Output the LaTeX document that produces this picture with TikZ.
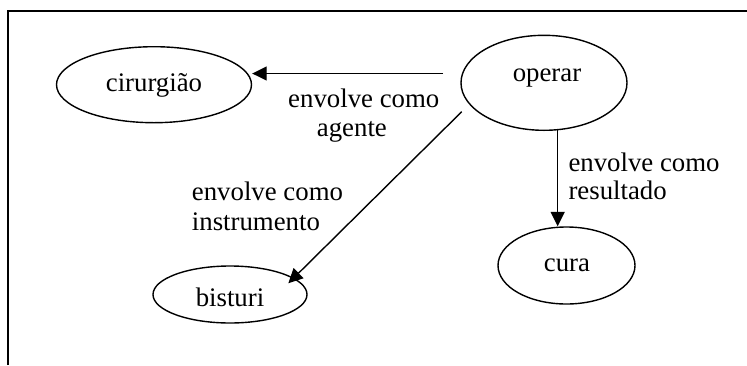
\documentclass[tikz,border=0pt]{standalone}
\usepackage{fontspec}
\setmainfont{Liberation Serif}
\usetikzlibrary{arrows.meta,shapes.geometric,calc}
\begin{document}
\begin{tikzpicture}[x=1pt,y=-1pt,
  oval/.style={draw,ellipse,line width=1.4pt,inner sep=0pt},
  word/.style={font=\fontsize{26.8}{30}\selectfont,inner sep=0pt,anchor=base},
  lbl/.style={word,anchor=base west},
  arr/.style={line width=1.4pt,-{Triangle[length=14.5pt,width=14pt]}},
  frame/.style={line width=1.7pt}]
\useasboundingbox (0,0) rectangle (747,365);

% open frame: top and left edges only
\coordinate (fbl) at (8,365);
\coordinate (ftl) at (8,11);
\coordinate (ftr) at (747,11);
\draw[frame] (fbl) -- (ftl) -- (ftr);

% concepts
\node[oval,minimum width=195pt,minimum height=76pt] (cir) at (154,84.7) {};
\node[oval,minimum width=166pt,minimum height=95pt] (op) at (544,82.8) {};
\node[oval,minimum width=154pt,minimum height=57pt] (bis) at (230,294.5) {};
\node[oval,minimum width=137pt,minimum height=77pt] (cura) at (566.5,265.5) {};

\node[word] (tcir) at (154,91.7) {cirurgião};
\node[word] (top) at (547,81.7) {operar};
\node[word] (tbis) at (230,306.7) {bisturi};
\node[word] (tcura) at (567,271.7) {cura};

% relations
\coordinate (sag) at (443,73.5);
\draw[arr] (sag) -- (sag -| cir.east);

\coordinate (sin) at (461.7,111.7);
\draw[arr] (sin) -- ($(bis.center)+(58.3,-11.2)$);

\coordinate (sre) at (557.7,129.8);
\draw[arr] (sre) -- (sre |- cura.north);

% relation labels
\node[lbl] (lag1) at (288,107.3) {envolve como};
\node[lbl] (lag2) at (316.7,136.7) {agente};
\node[lbl] (lin1) at (191.7,200) {envolve como};
\node[lbl] (lin2) at (191.7,230) {instrumento};
\node[lbl] (lre1) at (568.3,171) {envolve como};
\node[lbl] (lre2) at (568.3,199) {resultado};
\end{tikzpicture}
\end{document}
